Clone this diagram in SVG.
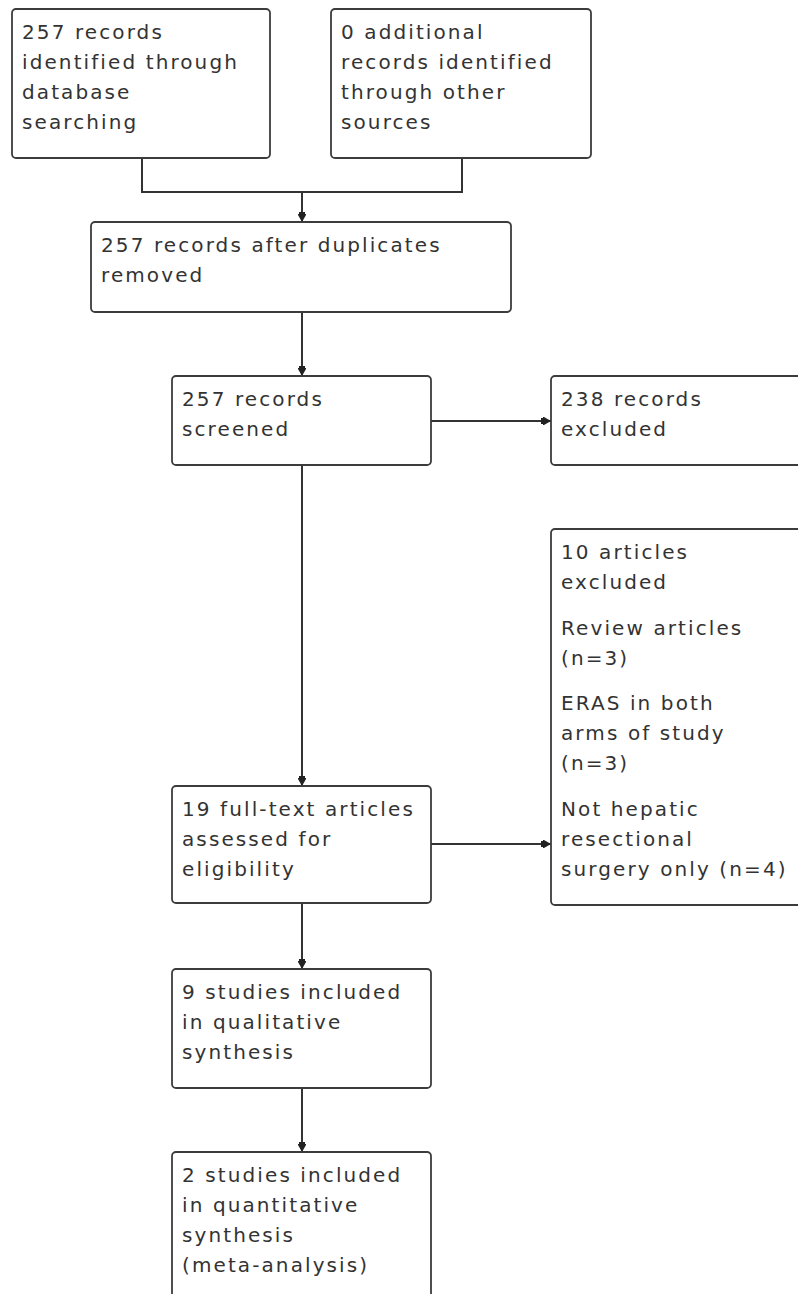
<svg xmlns="http://www.w3.org/2000/svg" width="798" height="1294" viewBox="0 0 798 1294">
  <style>
    .box { fill: #ffffff; stroke: #3c3c3c; stroke-width: 1.8; }
    .lbl { font-family: "DejaVu Sans", Verdana, sans-serif; font-size: 20px; letter-spacing: 2.1px; fill: #333333; }
    .wire { fill: none; stroke: #333333; stroke-width: 2; }
  </style>
  <defs>
    <marker id="arrow" viewBox="0 0 10 10" refX="10" refY="5" markerWidth="10" markerHeight="10" markerUnits="userSpaceOnUse" orient="auto">
      <path d="M0,2 L2,2 L2,1 L3,1 L3,9 L2,9 L2,8 L0,8 Z M3,1 L10,5 L3,9 Z" fill="#222222"/>
    </marker>
  </defs>
  <rect width="798" height="1294" fill="#ffffff"/>

  <g id="connectors">
    <polyline class="wire" points="142,158 142,192 462,192 462,158"/>
    <line class="wire" x1="302" y1="192" x2="302" y2="222" marker-end="url(#arrow)"/>
    <line class="wire" x1="302" y1="312" x2="302" y2="376" marker-end="url(#arrow)"/>
    <line class="wire" x1="431" y1="421" x2="551" y2="421" marker-end="url(#arrow)"/>
    <line class="wire" x1="302" y1="465" x2="302" y2="786" marker-end="url(#arrow)"/>
    <line class="wire" x1="431" y1="844" x2="551" y2="844" marker-end="url(#arrow)"/>
    <line class="wire" x1="302" y1="903" x2="302" y2="969" marker-end="url(#arrow)"/>
    <line class="wire" x1="302" y1="1088" x2="302" y2="1152" marker-end="url(#arrow)"/>
  </g>

  <g id="n-database">
    <rect class="box" x="12" y="9" width="258" height="149" rx="4"/>
    <text class="lbl" x="22" y="39">257 records</text>
    <text class="lbl" x="22" y="69">identified through</text>
    <text class="lbl" x="22" y="99">database</text>
    <text class="lbl" x="22" y="129">searching</text>
  </g>

  <g id="n-other">
    <rect class="box" x="331" y="9" width="260" height="149" rx="4"/>
    <text class="lbl" x="341" y="39">0 additional</text>
    <text class="lbl" x="341" y="69">records identified</text>
    <text class="lbl" x="341" y="99">through other</text>
    <text class="lbl" x="341" y="129">sources</text>
  </g>

  <g id="n-dedup">
    <rect class="box" x="91" y="222" width="420" height="90" rx="4"/>
    <text class="lbl" x="101" y="252">257 records after duplicates</text>
    <text class="lbl" x="101" y="282">removed</text>
  </g>

  <g id="n-screened">
    <rect class="box" x="172" y="376" width="259" height="89" rx="4"/>
    <text class="lbl" x="182" y="406">257 records</text>
    <text class="lbl" x="182" y="436">screened</text>
  </g>

  <g id="n-excluded">
    <rect class="box" x="551" y="376" width="260" height="89" rx="4"/>
    <text class="lbl" x="561" y="406">238 records</text>
    <text class="lbl" x="561" y="436">excluded</text>
  </g>

  <g id="n-fulltext-excluded">
    <rect class="box" x="551" y="529" width="260" height="376" rx="4"/>
    <text class="lbl" x="561" y="559">10 articles</text>
    <text class="lbl" x="561" y="589">excluded</text>
    <text class="lbl" x="561" y="635">Review articles</text>
    <text class="lbl" x="561" y="665">(n=3)</text>
    <text class="lbl" x="561" y="710">ERAS in both</text>
    <text class="lbl" x="561" y="740">arms of study</text>
    <text class="lbl" x="561" y="770">(n=3)</text>
    <text class="lbl" x="561" y="816">Not hepatic</text>
    <text class="lbl" x="561" y="846">resectional</text>
    <text class="lbl" x="561" y="876">surgery only (n=4)</text>
  </g>

  <g id="n-fulltext">
    <rect class="box" x="172" y="786" width="259" height="117" rx="4"/>
    <text class="lbl" x="182" y="816">19 full-text articles</text>
    <text class="lbl" x="182" y="846">assessed for</text>
    <text class="lbl" x="182" y="876">eligibility</text>
  </g>

  <g id="n-qualitative">
    <rect class="box" x="172" y="969" width="259" height="119" rx="4"/>
    <text class="lbl" x="182" y="999">9 studies included</text>
    <text class="lbl" x="182" y="1029">in qualitative</text>
    <text class="lbl" x="182" y="1059">synthesis</text>
  </g>

  <g id="n-quantitative">
    <rect class="box" x="172" y="1152" width="259" height="160" rx="4"/>
    <text class="lbl" x="182" y="1182">2 studies included</text>
    <text class="lbl" x="182" y="1212">in quantitative</text>
    <text class="lbl" x="182" y="1242">synthesis</text>
    <text class="lbl" x="182" y="1272">(meta-analysis)</text>
  </g>
</svg>
